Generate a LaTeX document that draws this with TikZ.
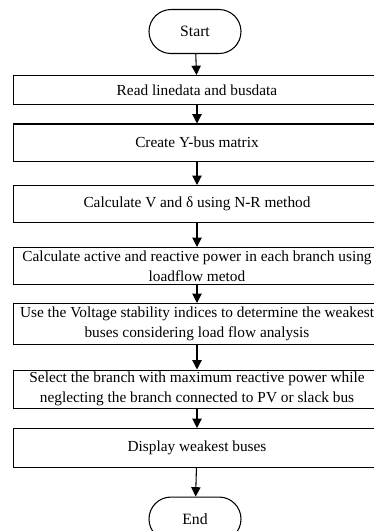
\documentclass[tikz,border=0pt]{standalone}
\usepackage{fontspec}
\setmainfont{Liberation Serif}
\usetikzlibrary{arrows.meta}

\begin{document}
\begin{tikzpicture}[x=0.75pt,y=-0.75pt,
        stepbox/.style={draw=black,line width=0.8pt,minimum width=275.25pt,anchor=north,align=center,inner sep=0pt,
            font=\fontsize{11.5}{15}\selectfont},
        terminal/.style={draw=black,line width=0.8pt,rounded corners=16.5pt,minimum width=69pt,minimum height=33pt,
            anchor=north,font=\fontsize{11.8}{15}\selectfont},
        flow/.style={-{Triangle[length=7pt,width=7pt]},line width=0.8pt}]
        \useasboundingbox (0,0) rectangle (374,531);
        \clip (0,0) rectangle (374,531);

        \node[terminal] (start) at (195,9) {Start};

        \node[stepbox,minimum height=21.75pt] (read) at (197,75) {Read linedata and busdata};
        \node[stepbox,minimum height=28pt] (ybus) at (197,123.5) {Create Y-bus matrix};
        \node[stepbox,minimum height=28pt] (nr) at (197,185) {Calculate V and δ using N-R method};
        \node[stepbox,minimum height=28pt] (power) at (197,247) {Calculate active and reactive power in each branch using\\loadflow metod};
        \node[stepbox,minimum height=31pt] (vsi) at (197,303) {Use the Voltage stability indices to determine the weakest\\buses considering load flow analysis};
        \node[stepbox,minimum height=28.5pt] (select) at (197,369.5) {Select the branch with maximum reactive power while\\neglecting the branch connected to PV or slack bus};
        \node[stepbox,minimum height=29pt] (show) at (197,428) {Display weakest buses};

        \node[terminal] (end) at (195,496.5) {End};

        \path[flow] (start) edge (read);
        \path[flow] (read) edge (ybus);
        \path[flow] (ybus) edge (nr);
        \path[flow] (nr) edge (power);
        \path[flow] (power) edge (vsi);
        \path[flow] (vsi) edge (select);
        \path[flow] (select) edge (show);
        \path[flow] (show) edge (end);
\end{tikzpicture}
\end{document}
